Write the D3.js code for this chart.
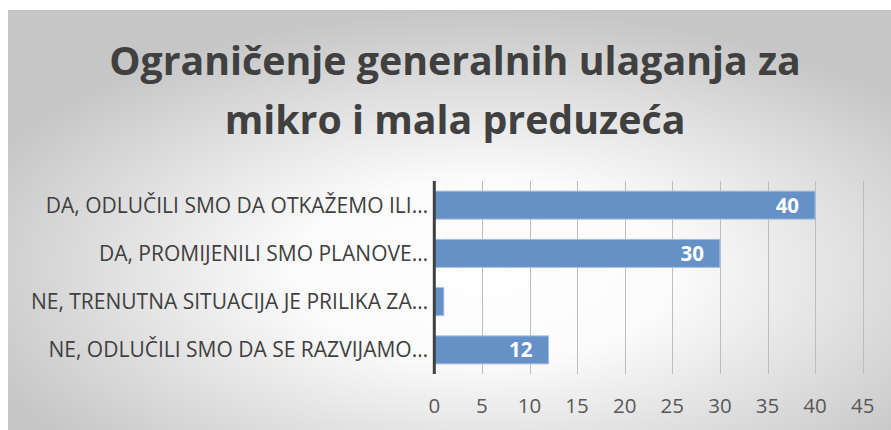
<!DOCTYPE html>
<html>
<head>
<meta charset="utf-8">
<script src="https://cdn.jsdelivr.net/npm/d3@7"></script>
<style>
  html, body { margin: 0; padding: 0; background: #fff; }
  svg { display: block; }
</style>
</head>
<body>
<script>
// data
const categories = [
  "DA, ODLUČILI SMO DA OTKAŽEMO ILI…",
  "DA, PROMIJENILI SMO PLANOVE…",
  "NE, TRENUTNA SITUACIJA JE PRILIKA ZA…",
  "NE, ODLUČILI SMO DA SE RAZVIJAMO…"
];
const values = [40, 30, 1, 12];
const showLabel = [true, true, false, true];
const xTicks = [0, 5, 10, 15, 20, 25, 30, 35, 40, 45];
const titleLines = ["Ograničenje generalnih ulaganja za", "mikro i mala preduzeća"];

const width = 891, height = 430;
const font = "'Open Sans', Lato, sans-serif";

const svg = d3.select("body").append("svg")
  .attr("width", width)
  .attr("height", height)
  .style("font-family", font);

// background gradient
const defs = svg.append("defs");
const grad = defs.append("radialGradient")
  .attr("id", "bg")
  .attr("cx", 0.54).attr("cy", 0.62).attr("r", 0.62);
grad.append("stop").attr("offset", "0%").attr("stop-color", "#ffffff");
grad.append("stop").attr("offset", "35%").attr("stop-color", "#fbfbfb");
grad.append("stop").attr("offset", "100%").attr("stop-color", "#c6c6c6");

svg.append("rect")
  .attr("x", 8).attr("y", 10)
  .attr("width", width - 8).attr("height", height - 10)
  .attr("fill", "url(#bg)");
svg.append("line")
  .attr("x1", 8).attr("x2", width).attr("y1", 10.5).attr("y2", 10.5)
  .attr("stroke", "#c4c4c4");

// title
svg.append("g")
  .selectAll("text")
  .data(titleLines)
  .join("text")
    .attr("x", 455)
    .attr("y", (d, i) => 75 + i * 59)
    .attr("text-anchor", "middle")
    .attr("font-weight", "bold")
    .attr("font-size", 39.3)
    .attr("fill", "#404040")
    .text(d => d);

// scales
const x = d3.scaleLinear().domain([0, 45]).range([434.3, 862.7]);
const y = d3.scaleBand().domain(categories).range([181, 374]).paddingInner(0.42).paddingOuter(0.21);

// gridlines
svg.append("g")
  .selectAll("line")
  .data(xTicks.slice(1))
  .join("line")
    .attr("x1", d => Math.round(x(d)) + 0.5)
    .attr("x2", d => Math.round(x(d)) + 0.5)
    .attr("y1", 181).attr("y2", 374)
    .attr("stroke", "#bdbdbd")
    .attr("stroke-width", 1);

// bars
svg.append("g")
  .selectAll("rect")
  .data(values)
  .join("rect")
    .attr("x", x(0))
    .attr("y", (d, i) => y(categories[i]))
    .attr("width", d => x(d) - x(0))
    .attr("height", y.bandwidth())
    .attr("fill", "#6591c7")
    .attr("stroke", "#a3bfe2")
    .attr("stroke-width", 1);

// value labels
svg.append("g")
  .selectAll("text")
  .data(values.map((v, i) => ({ v, i })).filter(d => showLabel[d.i]))
  .join("text")
    .attr("x", d => x(d.v) - 16)
    .attr("y", d => y(categories[d.i]) + y.bandwidth() / 2)
    .attr("dy", "0.36em")
    .attr("text-anchor", "end")
    .attr("font-weight", "bold")
    .attr("font-size", 20.5)
    .attr("fill", "#ffffff")
    .text(d => d.v);

// y axis line
svg.append("line")
  .attr("x1", x(0)).attr("x2", x(0))
  .attr("y1", 181).attr("y2", 374)
  .attr("stroke", "#404040")
  .attr("stroke-width", 3);

// category labels
svg.append("g")
  .selectAll("text")
  .data(categories)
  .join("text")
    .attr("x", 428)
    .attr("y", d => y(d) + y.bandwidth() / 2)
    .attr("dy", "0.36em")
    .attr("text-anchor", "end")
    .attr("font-size", 21)
    .attr("fill", "#404040")
    .text(d => d);

// x tick labels
svg.append("g")
  .selectAll("text")
  .data(xTicks)
  .join("text")
    .attr("x", d => x(d))
    .attr("y", 413)
    .attr("text-anchor", "middle")
    .attr("font-size", 20.5)
    .attr("fill", "#595959")
    .text(d => d);
</script>
</body>
</html>
